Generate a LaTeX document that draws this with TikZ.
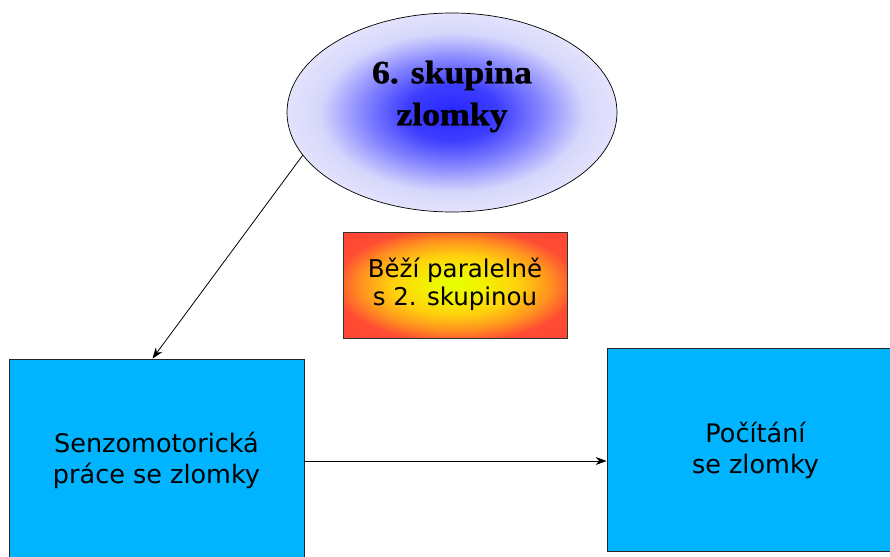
\documentclass[tikz,border=0pt]{standalone}
\usepackage{fontspec}
\setmainfont{Liberation Serif}
\newfontfamily\ellfont[FakeStretch=1.1, FakeBold=1.2]{Liberation Serif}
\newfontfamily\boxfont{DejaVu Sans}
\usetikzlibrary{shapes.geometric,arrows.meta}
\definecolor{boxblue}{RGB}{0,180,255}
\pgfdeclareradialshading{ellshade}{\pgfpoint{0bp}{0bp}}{rgb(0bp)=(0.15,0.15,1); rgb(7bp)=(0.24,0.24,1); rgb(13bp)=(0.5,0.5,1); rgb(20bp)=(0.84,0.84,0.99); rgb(25bp)=(0.89,0.89,0.99); rgb(50bp)=(0.89,0.89,0.99)}
\pgfdeclareradialshading{boxshade}{\pgfpoint{0bp}{0bp}}{rgb(0bp)=(0.9,1,0); rgb(6bp)=(0.95,0.95,0); rgb(14bp)=(1,0.82,0.05); rgb(21bp)=(1,0.58,0.12); rgb(27bp)=(1,0.3,0.2); rgb(50bp)=(1,0.22,0.2)}
\tikzset{
  bluebox/.style={draw=black!85, line width=0.8pt, fill=boxblue, inner sep=0pt},
  boxtext/.style={font=\boxfont\fontsize{25.5}{31}\selectfont, align=center, inner sep=0pt},
  arr/.style={line width=0.8pt, -{Stealth[length=11pt,width=8pt]}},
}
\begin{document}
\begin{tikzpicture}[x=1pt,y=-1pt]
\useasboundingbox (0,0) rectangle (890,556);
\clip (0,0) rectangle (890,556);
\fill[white] (0,0) rectangle (890,556);
% ellipse
\node[draw, line width=0.7pt, ellipse, minimum width=330pt, minimum height=199pt, inner sep=0pt, shade, shading=ellshade] (E) at (452,112.5) {};
\node[font=\ellfont\bfseries\fontsize{32.5}{42}\selectfont, align=center, inner sep=0pt] (ET) at (452,96.5) {6. skupina\\zlomky};
% middle box
\node[draw=black!80, line width=0.7pt, minimum width=224pt, minimum height=106pt, inner sep=0pt, shade, shading=boxshade] (M) at (455,285) {};
\node[font=\boxfont\fontsize{24.5}{28}\selectfont, align=center, inner sep=0pt] (MT) at (455,284.5) {Běží paralelně\\s 2. skupinou};
% left box
\node[bluebox, minimum width=295pt, minimum height=204pt] (L) at (156.5,461) {};
\node[boxtext] (LT) at (156.5,460.5) {Senzomotorická\\práce se zlomky};
% right box
\node[bluebox, minimum width=297pt, minimum height=203pt] (R) at (755.5,449.5) {};
\node[boxtext] (RT) at (755.5,450) {Počítání\\se zlomky};
% connectors
\draw[arr] (E.196) -- ([xshift=-4pt]L.north);
\draw[arr] (L.east) -- (L.east -| R.west);
\end{tikzpicture}
\end{document}
